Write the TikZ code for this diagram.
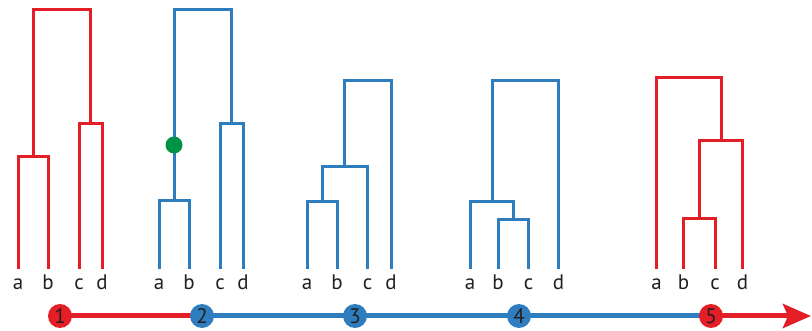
\documentclass[tikz,border=0pt]{standalone}
\usepackage{fontspec}
\setmainfont{PT Sans}
\usetikzlibrary{arrows.meta}
\definecolor{tred}{RGB}{228,30,38}
\definecolor{tblue}{RGB}{46,125,190}
\definecolor{tgreen}{RGB}{0,146,69}
\definecolor{tdark}{RGB}{35,31,32}
\begin{document}
\begin{tikzpicture}[x=1pt,y=-1pt,
  branch/.style={line width=3pt,line join=miter},
  leaflabel/.style={anchor=base,inner sep=0pt,font=\fontsize{21}{21}\selectfont,text=tdark},
  stage/.style={circle,minimum size=24pt,inner sep=0pt,font=\fontsize{21}{21}\selectfont,text=tdark},
  axis/.style={line width=5pt}]
\useasboundingbox (0,0) rectangle (812,331);

% ---------- tree 1 (red) ----------
\coordinate (t1a) at (18,269);
\coordinate (t1b) at (48,269);
\coordinate (t1c) at (79,269);
\coordinate (t1d) at (102,269);
\coordinate (t1ab) at (33,157);
\coordinate (t1cd) at (90.5,124);
\coordinate (t1r) at (61,10);
\draw[branch,tred] (t1a) |- (t1ab) -| (t1b);
\draw[branch,tred] (t1c) |- (t1cd) -| (t1d);
\draw[branch,tred] (t1ab) |- (t1r) -| (t1cd);
\foreach \l in {a,b,c,d}{\node[leaflabel] (l1\l) at ([yshift=-21pt]t1\l) {\l};}

% ---------- tree 2 (blue) ----------
\coordinate (t2a) at (159,269);
\coordinate (t2b) at (189,269);
\coordinate (t2c) at (220,269);
\coordinate (t2d) at (243,269);
\coordinate (t2ab) at (174,201);
\coordinate (t2cd) at (231.5,124);
\coordinate (t2r) at (200,10);
\draw[branch,tblue] (t2a) |- (t2ab) -| (t2b);
\draw[branch,tblue] (t2c) |- (t2cd) -| (t2d);
\draw[branch,tblue] (t2ab) |- (t2r) -| (t2cd);
\node[circle,fill=tgreen,minimum size=17pt,inner sep=0pt] (mark) at (174,145) {};
\foreach \l in {a,b,c,d}{\node[leaflabel] (l2\l) at ([yshift=-21pt]t2\l) {\l};}

% ---------- tree 3 (blue) ----------
\coordinate (t3a) at (307,269);
\coordinate (t3b) at (337,269);
\coordinate (t3c) at (367.5,269);
\coordinate (t3d) at (391,269);
\coordinate (t3ab) at (322,201.5);
\coordinate (t3abc) at (344.5,167);
\coordinate (t3r) at (367,81);
\draw[branch,tblue] (t3a) |- (t3ab) -| (t3b);
\draw[branch,tblue] (t3ab) |- (t3abc) -| (t3c);
\draw[branch,tblue] (t3abc) |- (t3r) -| (t3d);
\foreach \l in {a,b,c,d}{\node[leaflabel] (l3\l) at ([yshift=-21pt]t3\l) {\l};}

% ---------- tree 4 (blue) ----------
\coordinate (t4a) at (470,269);
\coordinate (t4b) at (498,269);
\coordinate (t4c) at (528.5,269);
\coordinate (t4d) at (558.5,269);
\coordinate (t4bc) at (513.25,220);
\coordinate (t4abc) at (492,201.5);
\coordinate (t4r) at (525,81);
\draw[branch,tblue] (t4b) |- (t4bc) -| (t4c);
\draw[branch,tblue] (t4a) |- (t4abc) -| (t4bc);
\draw[branch,tblue] (t4abc) |- (t4r) -| (t4d);
\foreach \l in {a,b,c,d}{\node[leaflabel] (l4\l) at ([yshift=-21pt]t4\l) {\l};}

% ---------- tree 5 (red) ----------
\coordinate (t5a) at (656.5,269);
\coordinate (t5b) at (683.5,269);
\coordinate (t5c) at (715,269);
\coordinate (t5d) at (742.5,269);
\coordinate (t5bc) at (699.25,218.5);
\coordinate (t5bcd) at (721,141);
\coordinate (t5r) at (690,78);
\draw[branch,tred] (t5b) |- (t5bc) -| (t5c);
\draw[branch,tred] (t5bc) |- (t5bcd) -| (t5d);
\draw[branch,tred] (t5a) |- (t5r) -| (t5bcd);
\foreach \l in {a,b,c,d}{\node[leaflabel] (l5\l) at ([yshift=-21pt]t5\l) {\l};}

% ---------- time axis ----------
\coordinate (s1) at (60,316);
\coordinate (s2) at (202,316);
\coordinate (s3) at (355,316);
\coordinate (s4) at (519,316);
\coordinate (s5) at (711,316);
\coordinate (axend) at (811,316);
\draw[axis,tred] (s1) -- (s2);
\draw[axis,tblue] (s2) -- (s5);
\draw[axis,tred,-{Stealth[length=28pt,width=24pt,inset=5pt]}] (s5) -- (axend);
\node[stage,fill=tred] (n1) at (s1) {1};
\node[stage,fill=tblue] (n2) at (s2) {2};
\node[stage,fill=tblue] (n3) at (s3) {3};
\node[stage,fill=tblue] (n4) at (s4) {4};
\node[stage,fill=tred] (n5) at (s5) {5};
\end{tikzpicture}
\end{document}
